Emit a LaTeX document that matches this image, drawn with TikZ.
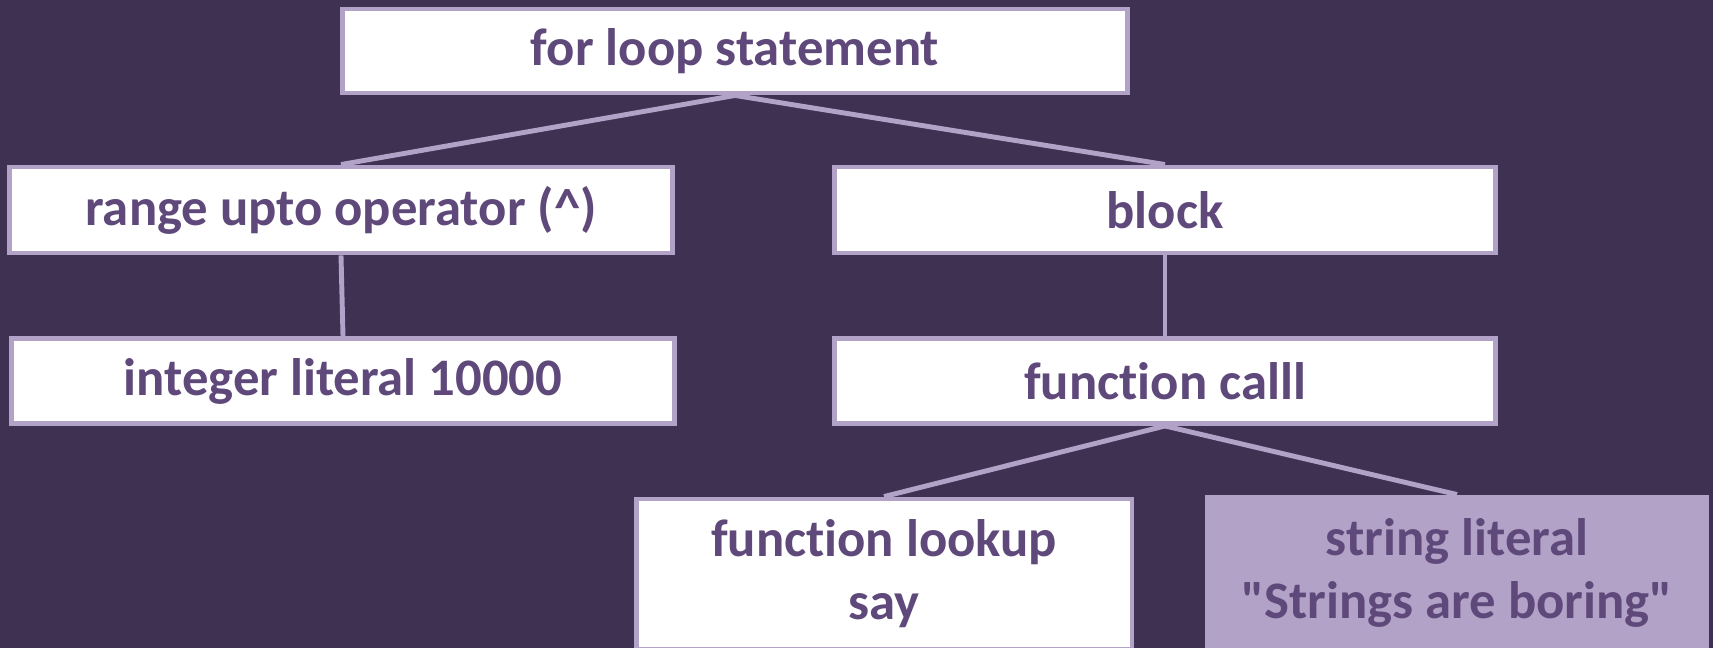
\documentclass[tikz,border=0pt]{standalone}
\usepackage{fontspec}
\newfontfamily\astfont{Carlito}[Ligatures=NoCommon]
\usepackage{xcolor}
\usetikzlibrary{positioning}

\definecolor{bgpurple}{HTML}{3F3151}
\definecolor{lavender}{HTML}{B3A2C7}
\definecolor{textpurple}{HTML}{5F497A}

\tikzset{
	astnode/.style={shape=rectangle,draw=lavender,fill=white,line width=2.8pt,
		text=textpurple,font=\astfont\bfseries\fontsize{30}{36}\selectfont,align=center,inner sep=0pt},
	leafnode/.style={astnode,fill=lavender},
	astedge/.style={-,draw=lavender,line width=2.8pt}
}

\begin{document}
\begin{tikzpicture}[x=0.02cm,y=-0.02cm]
		\fill[bgpurple] (0,0) rectangle (1713,648);
		\useasboundingbox (0,0) rectangle (1713,648);
		\node[astnode,minimum width=15.7cm,minimum height=1.68cm] (forloop) at (735,51) {for loop statement};
		\node[astnode,minimum width=13.28cm,minimum height=1.72cm] (range) at (341,210) {range upto operator (\^{})};
		\node[astnode,minimum width=13.24cm,minimum height=1.72cm] (block) at (1165,210) {block};
		\node[astnode,minimum width=13.28cm,minimum height=1.7cm] (intlit) at (343,381) {integer literal 10000};
		\node[astnode,minimum width=13.24cm,minimum height=1.7cm] (call) at (1165,381) {function calll};
		\node[astnode,minimum width=9.92cm,minimum height=3cm] (lookup) at (884,574) {function lookup\\say};
		\node[leafnode,minimum width=10cm,minimum height=3.04cm] (strlit) at (1457,573) {string literal\\"Strings are boring"};
		\path
		\foreach \startNode/\endNode in {forloop/range,forloop/block,range/intlit,block/call,call/lookup,call/strlit}
		{
			(\startNode.south) edge[astedge] (\endNode.north)
		};
\end{tikzpicture}
\end{document}
